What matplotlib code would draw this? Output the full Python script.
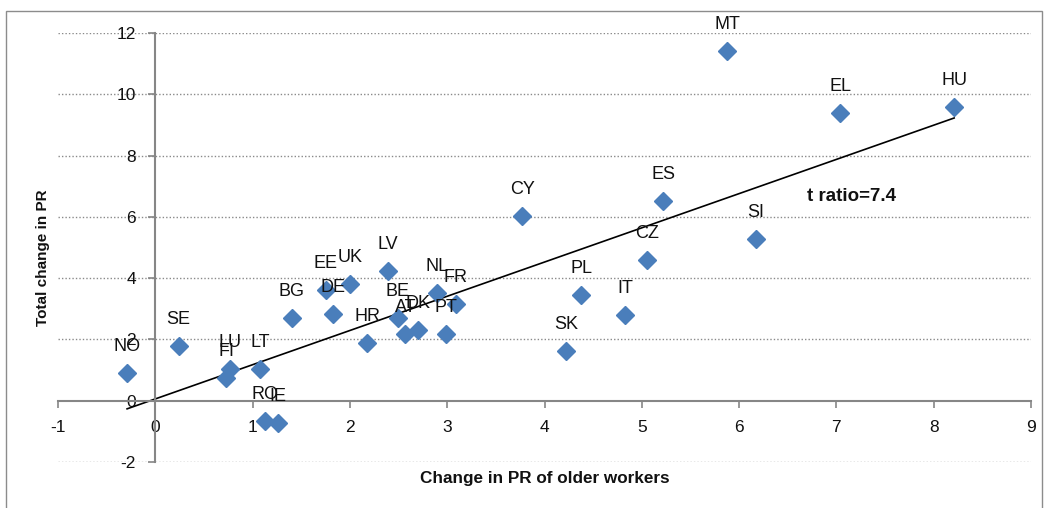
import numpy as np
import matplotlib
matplotlib.use("Agg")
import matplotlib.pyplot as plt
from matplotlib.patches import Rectangle

plt.rcParams['font.family'] = ['Liberation Sans', 'DejaVu Sans']

countries = ["NO", "SE", "FI", "LU", "LT", "RO", "IE", "BG", "EE", "DE", "UK", "LV",
             "HR", "BE", "AT", "DK", "NL", "FR", "PT", "CY", "SK", "PL", "IT", "CZ",
             "ES", "SI", "MT", "EL", "HU"]
change_older = [-0.29, 0.24, 0.73, 0.77, 1.08, 1.13, 1.26, 1.40, 1.75, 1.83, 2.00, 2.39,
                2.18, 2.49, 2.57, 2.70, 2.90, 3.09, 2.99, 3.77, 4.22, 4.38, 4.83, 5.05,
                5.22, 6.17, 5.88, 7.04, 8.21]
total_change = [0.91, 1.79, 0.75, 1.04, 1.04, -0.65, -0.72, 2.70, 3.62, 2.83, 3.81, 4.23,
                1.89, 2.70, 2.18, 2.31, 3.52, 3.16, 2.18, 6.03, 1.63, 3.45, 2.80, 4.59,
                6.51, 5.28, 11.40, 9.38, 9.58]
x_ticks = [-1, 0, 1, 2, 3, 4, 5, 6, 7, 8, 9]
y_ticks = [-2, 0, 2, 4, 6, 8, 10, 12]

W, H = 1047, 508
fig = plt.figure(figsize=(W / 100, H / 100), dpi=100)
fig.patch.set_facecolor('white')
fig.patches.append(Rectangle((6 / W, -0.05), (1042 - 6) / W, 1 - 11 / H + 0.05,
                             transform=fig.transFigure, fill=False,
                             edgecolor='#8c8c8c', linewidth=1.0))

ax = fig.add_axes([58 / W, 1 - 462 / H, (1031 - 58) / W, (462 - 33) / H])
ax.set_xlim(-1, 9)
ax.set_ylim(-2, 12)
ax.set_facecolor('none')

axis_col = '#868686'
for s in ['top', 'right']:
    ax.spines[s].set_visible(False)
ax.spines['left'].set_position(('data', 0))
ax.spines['bottom'].set_position(('data', 0))
ax.spines['left'].set_color(axis_col)
ax.spines['bottom'].set_color(axis_col)
ax.spines['left'].set_linewidth(1.5)
ax.spines['bottom'].set_linewidth(1.5)

ax.set_xticks(x_ticks)
ax.set_yticks(y_ticks)
ax.set_xticklabels([str(v) for v in x_ticks])
ax.set_yticklabels([str(v) for v in y_ticks])
ax.tick_params(axis='x', direction='out', length=5, width=1.2, color=axis_col,
               pad=9, labelsize=12.5, labelcolor='#111111')
ax.tick_params(axis='y', direction='out', length=5, width=1.2, color=axis_col,
               pad=9, labelsize=12.5, labelcolor='#111111')

for yv in y_ticks:
    if yv == 0:
        continue
    ax.axhline(yv, color='#8a8a8a', linestyle=(0, (1, 1.5)), linewidth=1.0, zorder=0)

xa = np.array(change_older)
ya = np.array(total_change)
slope, intercept = np.polyfit(xa, ya, 1)
xl = np.array([xa.min(), xa.max()])
ax.plot(xl, slope * xl + intercept, color='black', linewidth=1.2, zorder=2)

ax.plot(xa, ya, linestyle='none', marker='D', markersize=9, color='#4a7ebb',
        markeredgecolor='#4a7ebb', zorder=3)

for c, xv, yv in zip(countries, change_older, total_change):
    ax.annotate(c, (xv, yv), xytext=(0, 19), textcoords='offset points',
                ha='center', va='center', fontsize=13, color='#111111', zorder=4)

ax.text(7.16, 6.68, "t ratio=7.4", ha='center', va='center', fontsize=13.5,
        fontweight='bold', color='#111111')

fig.text(545 / W, 1 - 478 / H, "Change in PR of older workers", ha='center',
         va='center', fontsize=12.3, fontweight='bold', color='#111111')
fig.text(43 / W, 1 - 258 / H, "Total change in PR", ha='center', va='center',
         rotation=90, fontsize=11, fontweight='bold', color='#111111')

fig.savefig("out.png", dpi=100, facecolor='white')
